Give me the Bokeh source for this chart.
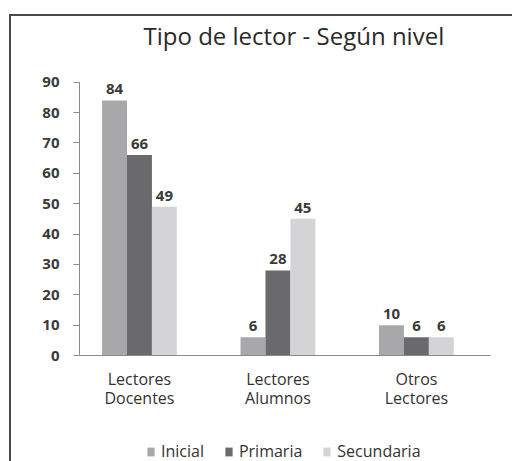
from bokeh.plotting import figure
from bokeh.models import (ColumnDataSource, Range1d, FixedTicker, Legend, LegendItem, Spacer)
from bokeh.layouts import column, row
from bokeh.core.properties import value
from bokeh.embed import file_html
from bokeh.resources import INLINE

categories = ["Lectores\nDocentes", "Lectores\nAlumnos", "Otros\nLectores"]
series = ["Inicial", "Primaria", "Secundaria"]
inicial = [84, 6, 10]
primaria = [66, 28, 6]
secundaria = [49, 45, 6]
colors = ["#a8a8aa", "#6a6a6c", "#d4d4d6"]
y_ticks = [0, 10, 20, 30, 40, 50, 60, 70, 80, 90]
title_text = "Tipo de lector - Según nivel"

FONT = "Open Sans"

p = figure(width=501, height=424, output_backend="svg", toolbar_location=None,
           x_range=Range1d(-0.433, 2.535), y_range=Range1d(0, 100.1),
           min_border_left=68, min_border_right=22, min_border_top=33, min_border_bottom=85)
p.outline_line_color = None
p.grid.grid_line_color = None
p.background_fill_color = "white"
p.border_fill_color = "white"

p.title.text = title_text
p.title.align = "left"
p.title.offset = 64
p.title.text_font = FONT
p.title.text_font_size = "24px"
p.title.text_font_style = "normal"
p.title.text_color = "#2a2a2a"
p.title.standoff = 0

xs = list(range(len(categories)))
w = 0.18
offsets = [-w, 0, w]
sources = []
for vals, off, col in zip([inicial, primaria, secundaria], offsets, colors):
    src = ColumnDataSource(dict(x=[x + off for x in xs], top=vals, lab=[str(v) for v in vals]))
    sources.append(src)
    p.vbar(x="x", top="top", width=w, source=src, fill_color=col, line_color=None)
    p.text(x="x", y="top", text="lab", source=src, text_align="center", text_baseline="bottom",
           y_offset=-6, text_font=value(FONT), text_font_size="15px", text_color="#3a3a3a",
           text_font_style="bold")

# y axis
ya = p.yaxis[0]
ya.ticker = FixedTicker(ticks=y_ticks)
ya.bounds = (0, 90)
ya.axis_line_color = "#8a8a8a"
ya.major_tick_line_color = "#8a8a8a"
ya.major_tick_out = 6
ya.major_tick_in = 0
ya.minor_tick_line_color = None
ya.major_label_standoff = 14
ya.major_label_text_font = FONT
ya.major_label_text_font_size = "15px"
ya.major_label_text_font_style = "bold"
ya.major_label_text_color = "#3a3a3a"

# x axis
xa = p.xaxis[0]
xa.ticker = FixedTicker(ticks=xs)
xa.major_label_overrides = {i: c for i, c in enumerate(categories)}
xa.axis_line_color = "#8a8a8a"
xa.major_tick_line_color = None
xa.minor_tick_line_color = None
xa.major_tick_out = 0
xa.major_label_standoff = 12
xa.major_label_text_font = FONT
xa.major_label_text_font_size = "16px"
xa.major_label_text_line_height = 0.88
xa.major_label_text_color = "#333333"

# legend strip below the chart
pl = figure(width=501, height=21, output_backend="svg", toolbar_location=None,
            x_range=Range1d(0, 1), y_range=Range1d(0, 1),
            x_axis_location=None, y_axis_location=None,
            min_border_left=0, min_border_right=0, min_border_top=0, min_border_bottom=0)
pl.outline_line_color = None
pl.grid.grid_line_color = None
leg_renderers = []
for src, c in zip(sources, colors):
    r = pl.vbar(x="x", top="top", width=w, source=src, fill_color=c, line_color=None)
    r.visible = False
    leg_renderers.append(r)
legend = Legend(items=[LegendItem(label=s, renderers=[r]) for s, r in zip(series, leg_renderers)],
                orientation="horizontal", location=(67, -1),
                glyph_width=9, glyph_height=11, label_standoff=6, spacing=20,
                padding=0, margin=0, border_line_color=None, background_fill_alpha=0,
                inactive_fill_alpha=0,
                label_text_font=FONT, label_text_font_size="16px", label_text_color="#333333")
pl.add_layout(legend, "center")

line_style = {"background-color": "#4a4a4a"}
top_line = Spacer(width=503, height=2, margin=0, styles=line_style)
left_line = Spacer(width=2, height=445, margin=0, styles=line_style)
layout = column(Spacer(height=14, margin=0),
                row(Spacer(width=9, margin=0),
                    column(top_line,
                           row(left_line, column(p, pl, spacing=0), spacing=0),
                           spacing=0),
                    spacing=0),
                spacing=0)

open("out.html", "w").write(file_html(layout, INLINE))
